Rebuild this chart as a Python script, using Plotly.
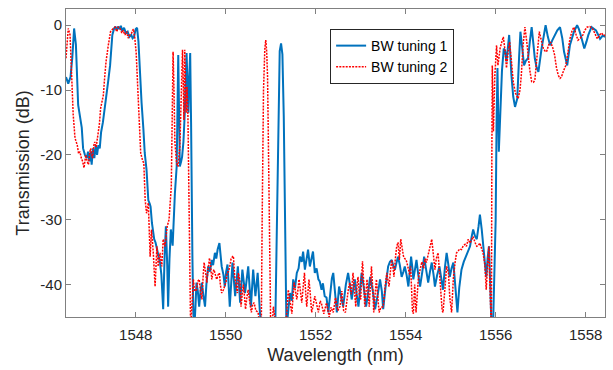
import plotly.graph_objects as go

# ---- BW tuning 1 (blue, solid) ----
wl1 = [1546.45, 1546.50, 1546.55, 1546.59, 1546.63, 1546.67, 1546.72, 1546.76, 1546.80, 1546.83,
       1546.87, 1546.91, 1546.94, 1546.97, 1547.00, 1547.02, 1547.05, 1547.08, 1547.11, 1547.14,
       1547.17, 1547.20, 1547.23, 1547.27, 1547.31, 1547.35, 1547.39, 1547.43, 1547.48, 1547.52,
       1547.55, 1547.58, 1547.61, 1547.64, 1547.67, 1547.70, 1547.74, 1547.78, 1547.82, 1547.86,
       1547.90, 1547.93, 1547.96, 1548.00, 1548.03, 1548.06, 1548.09, 1548.13, 1548.17, 1548.20,
       1548.24, 1548.26, 1548.28, 1548.31, 1548.33, 1548.36, 1548.38, 1548.41, 1548.44, 1548.47,
       1548.50, 1548.54, 1548.57, 1548.61, 1548.64, 1548.67, 1548.70, 1548.72, 1548.75, 1548.78,
       1548.82, 1548.85, 1548.87, 1548.91, 1548.93, 1548.945, 1548.96, 1548.98, 1549.01, 1549.03,
       1549.06, 1549.09, 1549.13, 1549.15, 1549.17, 1549.19, 1549.21, 1549.23, 1549.24, 1549.26,
       1549.28, 1549.30, 1549.33, 1549.35, 1549.38, 1549.41, 1549.44, 1549.47, 1549.50, 1549.54,
       1549.57, 1549.61, 1549.65, 1549.69, 1549.72, 1549.76, 1549.79, 1549.82, 1549.86, 1549.89,
       1549.91, 1549.95, 1549.98, 1550.01, 1550.04, 1550.09, 1550.15, 1550.21, 1550.27, 1550.32,
       1550.37, 1550.43, 1550.50, 1550.56, 1550.61, 1550.66, 1550.71, 1550.76, 1550.80, 1551.10,
       1551.14, 1551.17, 1551.20, 1551.23, 1551.26, 1551.29, 1551.32, 1551.35, 1551.39, 1551.43,
       1551.47, 1551.50, 1551.54, 1551.58, 1551.62, 1551.65, 1551.69, 1551.72, 1551.76, 1551.80,
       1551.83, 1551.87, 1551.90, 1551.94, 1551.98, 1552.02, 1552.06, 1552.09, 1552.13, 1552.16,
       1552.20, 1552.24, 1552.28, 1552.32, 1552.36, 1552.39, 1552.43, 1552.47, 1552.52, 1552.56,
       1552.61, 1552.67, 1552.72, 1552.76, 1552.80, 1552.84, 1552.87, 1552.91, 1552.95, 1552.99,
       1553.02, 1553.07, 1553.12, 1553.17, 1553.21, 1553.27, 1553.32, 1553.38, 1553.43, 1553.47,
       1553.50, 1553.55, 1553.61, 1553.65, 1553.69, 1553.72, 1553.76, 1553.80, 1553.83, 1553.87,
       1553.91, 1553.95, 1553.98, 1554.02, 1554.06, 1554.09, 1554.12, 1554.15, 1554.17, 1554.21,
       1554.24, 1554.28, 1554.32, 1554.37, 1554.41, 1554.45, 1554.50, 1554.54, 1554.58, 1554.62,
       1554.65, 1554.70, 1554.75, 1554.79, 1554.83, 1554.87, 1554.91, 1554.95, 1554.98, 1555.02,
       1555.06, 1555.10, 1555.15, 1555.19, 1555.24, 1555.29, 1555.34, 1555.38, 1555.43, 1555.47,
       1555.50, 1555.54, 1555.58, 1555.62, 1555.65, 1555.69, 1555.72, 1555.76, 1555.79, 1555.82,
       1555.85, 1555.88, 1555.90, 1555.94, 1555.97, 1556.00, 1556.02, 1556.04, 1556.07, 1556.10,
       1556.14, 1556.18, 1556.21, 1556.24, 1556.27, 1556.30, 1556.35, 1556.39, 1556.43, 1556.48,
       1556.52, 1556.55, 1556.59, 1556.63, 1556.67, 1556.72, 1556.76, 1556.80, 1556.84, 1556.87,
       1556.91, 1556.95, 1557.02, 1557.07, 1557.11, 1557.16, 1557.21, 1557.26, 1557.30, 1557.37,
       1557.43, 1557.48, 1557.52, 1557.59, 1557.65, 1557.70, 1557.74, 1557.81, 1557.85, 1557.89,
       1557.97, 1558.02, 1558.06, 1558.13, 1558.18, 1558.23, 1558.28, 1558.32, 1558.38, 1558.43]
tr1 = [-8.0, -9.0, -8.0, -5.0, -0.5, -3.0, -12.3, -14.5, -15.8, -19.0,
       -20.0, -20.5, -19.5, -21.0, -19.5, -21.5, -19.0, -20.5, -18.5, -20.0,
       -18.5, -19.0, -16.5, -15.0, -13.0, -11.3, -8.5, -6.2, -1.5, -0.5,
       -0.2, -0.8, -0.2, -0.6, -0.1, -0.9, -0.4, -1.2, -1.0, -1.8,
       -1.5, -2.0, -1.8, -0.6, -0.4, -2.5, -7.0, -12.0, -16.0, -19.7,
       -22.3, -25.0, -27.0, -27.5, -28.0, -30.5, -31.5, -33.0, -33.5, -34.6,
       -35.5, -36.6, -38.5, -43.8, -36.0, -31.0, -37.0, -43.4, -36.0, -31.5,
       -34.0, -29.0, -26.0, -21.8, -14.6, -4.6, -12.0, -21.8, -21.0, -20.3,
       -18.0, -13.5, -4.3, -12.0, -13.5, -8.0, -4.3, -15.0, -25.0, -36.0,
       -44.3, -47.0, -43.0, -39.7, -41.0, -43.4, -41.0, -39.7, -41.5, -43.4,
       -40.0, -37.2, -38.0, -36.2, -37.0, -35.1, -36.0, -34.6, -33.6, -35.5,
       -37.2, -38.5, -40.3, -38.0, -36.9, -43.4, -36.6, -41.8, -37.2, -42.8,
       -37.7, -41.3, -37.2, -43.4, -37.7, -41.8, -38.2, -44.3, -47.0, -47.0,
       -30.0, -12.0, -4.0, -2.8, -4.5, -14.0, -35.0, -47.0, -44.0, -41.3,
       -42.5, -39.2, -40.5, -38.2, -37.5, -35.7, -36.5, -34.9, -37.7, -35.5,
       -34.6, -37.2, -36.0, -34.9, -38.2, -37.5, -39.2, -39.5, -40.8, -39.8,
       -41.8, -42.0, -44.3, -41.0, -39.0, -38.2, -41.5, -44.3, -40.3, -41.5,
       -43.4, -40.0, -38.2, -40.0, -42.3, -40.5, -39.2, -41.5, -43.4, -40.5,
       -38.2, -40.5, -43.4, -41.0, -38.8, -41.0, -43.8, -41.5, -39.2, -41.0,
       -43.8, -40.5, -37.2, -36.5, -36.2, -37.0, -37.7, -36.5, -35.7, -37.0,
       -38.8, -38.0, -37.2, -38.5, -40.3, -38.0, -35.7, -37.5, -39.2, -37.5,
       -36.2, -38.5, -40.3, -38.0, -35.7, -37.5, -39.7, -38.0, -36.6, -38.5,
       -40.3, -38.5, -37.2, -39.0, -40.8, -37.5, -35.1, -37.0, -38.8, -37.5,
       -36.6, -40.0, -44.3, -40.5, -37.7, -36.5, -35.7, -35.0, -34.1, -32.5,
       -31.5, -32.5, -33.0, -31.0, -29.2, -31.5, -34.1, -36.5, -38.8, -36.0,
       -34.1, -40.0, -45.0, -47.0, -40.0, -30.0, -15.0, -6.6, -19.5, -13.3,
       -7.0, -3.6, -4.0, -5.6, -3.0, -1.5, -7.7, -11.0, -12.6, -11.3,
       -5.0, -1.0, -3.5, -6.2, -5.5, -5.1, -2.5, -0.3, -3.0, -5.1,
       -6.5, -7.2, -3.6, -1.5, 0.0, -1.8, -3.1, -2.3, -1.8, -0.8,
       -0.3, -2.0, -4.1, -6.2, -3.1, -2.0, -1.0, 0.0, -0.6, -1.5,
       -3.6, -2.5, -1.5, -0.3, -0.5, -0.8, -1.5, -2.1, -1.6, -1.8]

# ---- BW tuning 2 (red, dotted) ----
wl2 = [1546.45, 1546.48, 1546.50, 1546.54, 1546.58, 1546.61, 1546.65, 1546.70, 1546.73, 1546.76,
       1546.79, 1546.82, 1546.85, 1546.87, 1546.89, 1546.92, 1546.95, 1546.98, 1547.00, 1547.02,
       1547.04, 1547.07, 1547.09, 1547.12, 1547.15, 1547.19, 1547.22, 1547.28, 1547.31, 1547.34,
       1547.39, 1547.44, 1547.50, 1547.54, 1547.58, 1547.61, 1547.65, 1547.69, 1547.72, 1547.76,
       1547.80, 1547.83, 1547.87, 1547.91, 1547.93, 1547.95, 1547.98, 1548.01, 1548.06, 1548.11,
       1548.15, 1548.18, 1548.21, 1548.24, 1548.28, 1548.32, 1548.35, 1548.39, 1548.43, 1548.47,
       1548.50, 1548.54, 1548.58, 1548.61, 1548.65, 1548.70, 1548.74, 1548.77, 1548.79, 1548.81,
       1548.83, 1548.85, 1548.87, 1548.91, 1548.94, 1548.98, 1549.02, 1549.04, 1549.06, 1549.07,
       1549.09, 1549.11, 1549.12, 1549.14, 1549.16, 1549.18, 1549.20, 1549.22, 1549.24, 1549.28,
       1549.31, 1549.35, 1549.38, 1549.41, 1549.44, 1549.47, 1549.50, 1549.52, 1549.55, 1549.58,
       1549.61, 1549.64, 1549.67, 1549.69, 1549.72, 1549.74, 1549.77, 1549.80, 1549.83, 1549.86,
       1549.88, 1549.91, 1549.95, 1549.98, 1550.01, 1550.03, 1550.06, 1550.09, 1550.12, 1550.15,
       1550.17, 1550.20, 1550.23, 1550.26, 1550.28, 1550.32, 1550.34, 1550.37, 1550.39, 1550.42,
       1550.44, 1550.47, 1550.50, 1550.53, 1550.57, 1550.60, 1550.63, 1550.67, 1550.72, 1550.76,
       1550.79, 1550.81, 1550.84, 1550.87, 1550.89, 1550.91, 1550.93, 1550.97, 1551.00, 1551.04,
       1551.06, 1551.09, 1551.13, 1551.18, 1551.30, 1551.35, 1551.39, 1551.43, 1551.47, 1551.50,
       1551.52, 1551.55, 1551.58, 1551.61, 1551.63, 1551.66, 1551.69, 1551.72, 1551.75, 1551.78,
       1551.80, 1551.83, 1551.85, 1551.88, 1551.91, 1551.95, 1551.98, 1552.02, 1552.06, 1552.10,
       1552.13, 1552.18, 1552.24, 1552.30, 1552.34, 1552.39, 1552.44, 1552.49, 1552.54, 1552.58,
       1552.62, 1552.66, 1552.70, 1552.73, 1552.76, 1552.79, 1552.83, 1552.86, 1552.89, 1552.92,
       1552.94, 1552.97, 1553.00, 1553.02, 1553.04, 1553.07, 1553.09, 1553.12, 1553.14, 1553.17,
       1553.19, 1553.22, 1553.24, 1553.27, 1553.29, 1553.32, 1553.35, 1553.38, 1553.41, 1553.45,
       1553.50, 1553.54, 1553.58, 1553.61, 1553.63, 1553.66, 1553.69, 1553.72, 1553.74, 1553.77,
       1553.80, 1553.83, 1553.86, 1553.89, 1553.92, 1553.95, 1553.98, 1554.01, 1554.04, 1554.06,
       1554.09, 1554.11, 1554.13, 1554.15, 1554.17, 1554.20, 1554.23, 1554.26, 1554.28, 1554.32,
       1554.36, 1554.40, 1554.43, 1554.46, 1554.49, 1554.53, 1554.56, 1554.58, 1554.61, 1554.65,
       1554.68, 1554.72, 1554.75, 1554.78, 1554.81, 1554.83, 1554.87, 1554.91, 1554.95, 1554.98,
       1555.02, 1555.06, 1555.10, 1555.13, 1555.17, 1555.20, 1555.24, 1555.28, 1555.32, 1555.35,
       1555.39, 1555.43, 1555.47, 1555.50, 1555.54, 1555.58, 1555.61, 1555.65, 1555.69, 1555.72,
       1555.76, 1555.79, 1555.82, 1555.85, 1555.87, 1555.89, 1555.905, 1555.915, 1555.925, 1555.95,
       1555.98, 1556.02, 1556.05, 1556.10, 1556.14, 1556.17, 1556.21, 1556.24, 1556.28, 1556.31,
       1556.35, 1556.39, 1556.44, 1556.50, 1556.54, 1556.57, 1556.61, 1556.65, 1556.69, 1556.72,
       1556.76, 1556.80, 1556.84, 1556.87, 1556.92, 1556.97, 1557.02, 1557.06, 1557.10, 1557.13,
       1557.18, 1557.22, 1557.27, 1557.31, 1557.35, 1557.39, 1557.43, 1557.46, 1557.51, 1557.56,
       1557.61, 1557.65, 1557.70, 1557.74, 1557.79, 1557.83, 1557.88, 1557.94, 1557.98, 1558.03,
       1558.09, 1558.15, 1558.20, 1558.26, 1558.31, 1558.35, 1558.40, 1558.43]
tr2 = [-5.1, -2.0, -0.5, -1.5, -8.7, -13.8, -17.4, -18.5, -19.8, -19.5,
       -20.5, -21.0, -22.0, -20.5, -20.0, -21.0, -21.5, -19.5, -19.0, -20.0,
       -20.5, -18.5, -18.0, -18.8, -17.4, -15.4, -12.8, -10.8, -8.0, -5.6,
       -3.1, -1.0, -0.5, -0.3, -1.0, -0.3, -0.5, -1.2, -0.8, -1.5,
       -1.0, -2.0, -1.5, -1.2, -0.8, -0.6, -2.0, -4.3, -12.0, -19.7,
       -20.8, -21.3, -27.0, -29.0, -27.4, -35.7, -31.5, -35.1, -40.3, -34.1,
       -37.2, -35.1, -37.2, -33.0, -34.1, -31.0, -30.0, -27.0, -24.9, -14.6,
       -4.1, -10.0, -18.0, -21.3, -21.8, -18.8, -9.5, -3.8, -10.0, -14.6,
       -3.8, -10.0, -13.5, -9.5, -14.0, -25.0, -35.0, -47.0, -44.3, -39.2,
       -41.0, -40.8, -39.5, -39.2, -41.0, -42.3, -38.5, -36.6, -38.0, -39.7,
       -37.5, -35.9, -37.5, -39.2, -38.0, -37.7, -38.5, -39.2, -38.5, -38.2,
       -40.0, -41.3, -40.8, -40.3, -39.5, -38.2, -38.0, -37.2, -36.0, -35.7,
       -35.6, -38.8, -40.0, -41.3, -38.2, -39.7, -43.4, -41.0, -40.0, -42.0,
       -43.8, -42.0, -40.8, -42.5, -44.3, -43.0, -42.8, -44.0, -44.3, -46.5,
       -47.0, -30.0, -10.0, -3.5, -2.3, -4.0, -8.0, -30.0, -47.0, -45.5,
       -43.4, -45.0, -46.0, -47.0, -47.0, -45.0, -40.8, -43.0, -44.5, -41.5,
       -39.7, -41.0, -42.3, -40.5, -39.2, -41.0, -42.8, -40.5, -38.2, -41.5,
       -43.4, -41.0, -39.2, -41.5, -44.3, -43.0, -41.8, -43.0, -44.3, -42.5,
       -43.0, -44.5, -42.8, -45.0, -43.5, -44.3, -42.0, -44.0, -43.4, -41.0,
       -44.0, -44.3, -42.0, -40.5, -39.7, -41.5, -38.2, -41.0, -43.4, -40.0,
       -38.8, -41.5, -42.3, -39.0, -36.4, -40.0, -43.4, -41.0, -39.2, -41.5,
       -43.4, -39.5, -37.2, -41.0, -44.3, -41.5, -39.2, -42.0, -44.3, -43.5,
       -43.4, -40.5, -38.2, -39.5, -40.3, -38.0, -36.2, -37.5, -38.8, -36.0,
       -34.1, -33.5, -36.2, -33.0, -34.5, -35.6, -36.0, -36.2, -37.0, -37.7,
       -38.5, -37.2, -41.0, -44.0, -44.5, -40.0, -44.3, -41.0, -39.2, -37.7,
       -36.5, -37.5, -36.0, -36.6, -35.7, -34.5, -33.5, -33.0, -35.0, -37.7,
       -36.0, -35.1, -38.0, -41.5, -44.0, -44.3, -40.0, -37.2, -38.2, -42.0,
       -44.3, -39.0, -36.5, -35.1, -34.8, -34.5, -34.6, -34.0, -33.8, -34.1,
       -33.0, -33.6, -33.0, -32.6, -33.5, -34.1, -34.0, -33.6, -34.5, -35.1,
       -37.0, -40.8, -37.0, -34.1, -40.0, -45.0, -47.0, -20.0, -6.2, -16.4,
       -8.0, -3.1, -6.2, -3.5, -2.5, -1.8, -4.0, -6.6, -4.0, -2.6,
       -5.5, -8.7, -10.5, -11.3, -10.0, -7.7, -3.0, -0.3, -2.5, -4.6,
       -7.0, -8.7, -8.8, -8.5, -4.0, -1.0, -2.5, -3.6, -4.0, -4.1,
       -3.0, -2.6, -3.5, -4.6, -6.5, -7.7, -8.2, -8.0, -7.0, -6.2,
       -4.0, -2.1, -0.8, -0.3, -1.5, -2.3, -2.0, -1.5, -0.8, -0.3,
       -0.2, -0.5, -1.2, -2.1, -1.5, -1.2, -1.6, -1.5]

series_names = ["BW tuning 1", "BW tuning 2"]
y_tick_vals = [0, -10, -20, -30, -40]
y_tick_text = ["0", "-10", "-20", "-30", "-40"]
x_tick_vals = [1548, 1550, 1552, 1554, 1556, 1558]
x_tick_text = ["1548", "1550", "1552", "1554", "1556", "1558"]

FONT = "Arial, 'Liberation Sans', sans-serif"
AX = "#808080"

fig = go.Figure()
fig.add_trace(go.Scatter(x=wl1, y=tr1, mode="lines", name=series_names[0],
                         line=dict(color="#0072BD", width=2)))
fig.add_trace(go.Scatter(x=wl2, y=tr2, mode="lines", name=series_names[1],
                         line=dict(color="#FF0000", width=1.5, dash="2px,1.2px")))

fig.update_layout(
    width=613, height=370,
    margin=dict(l=66, r=8, t=9, b=53),
    paper_bgcolor="white", plot_bgcolor="white",
    font=dict(family=FONT, color="#262626", size=15),
    showlegend=True,
    legend=dict(x=0.49, y=0.935, xanchor="left", yanchor="top",
                bgcolor="white", bordercolor="#262626", borderwidth=1,
                font=dict(size=14, family=FONT, color="#000000"),
                itemwidth=30, tracegroupgap=0),
)
fig.update_xaxes(range=[1546.45, 1558.43], tickvals=x_tick_vals, ticktext=x_tick_text,
                 ticks="inside", ticklen=5, tickcolor=AX, showline=True, linecolor=AX,
                 linewidth=1, mirror="ticks", showgrid=False, zeroline=False,
                 ticklabelstandoff=4,
                 tickfont=dict(size=15, color="#262626"),
                 title=dict(text="Wavelength (nm)", font=dict(size=18, color="#262626"), standoff=6))
fig.update_yaxes(range=[-45, 2.5], tickvals=y_tick_vals, ticktext=y_tick_text,
                 ticks="inside", ticklen=5, tickcolor=AX, showline=True, linecolor=AX,
                 linewidth=1, mirror="ticks", showgrid=False, zeroline=False,
                 tickfont=dict(size=15, color="#262626"),
                 title=dict(text="Transmission (dB)", font=dict(size=18, color="#262626"), standoff=6))

fig.write_html("out.html")
